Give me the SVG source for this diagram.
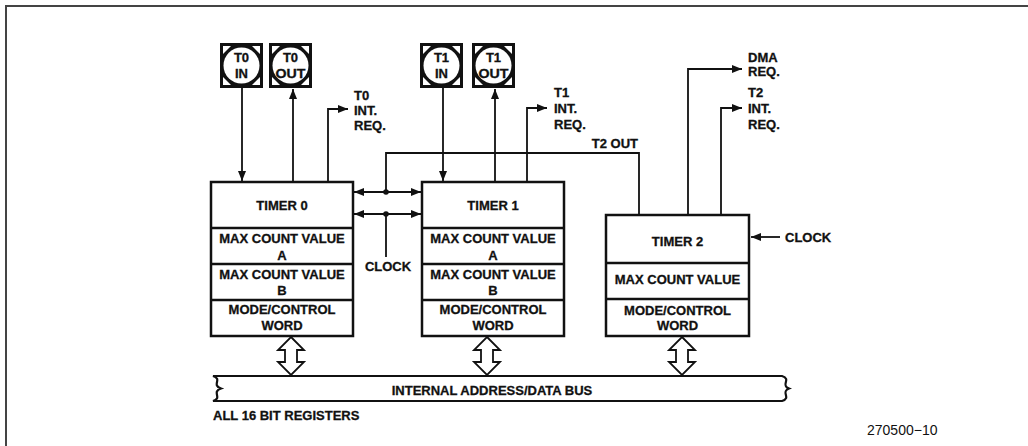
<svg xmlns="http://www.w3.org/2000/svg" width="1028" height="446" viewBox="0 0 1028 446">
<style>
.t{font-family:"Liberation Sans",Arial,sans-serif;font-weight:bold;font-size:13px;fill:#111;stroke:#111;stroke-width:0.3}
.tc{text-anchor:middle}
.pt{font-family:"Liberation Sans",Arial,sans-serif;font-weight:bold;font-size:13px;fill:#111;stroke:#111;stroke-width:0.3;text-anchor:middle}
.blk{fill:#fff;stroke:#111;stroke-width:2.5}
.div{stroke:#111;stroke-width:2.5}
.ln{fill:none;stroke:#111;stroke-width:1.8}
.ar{marker-end:url(#ah)}
.bi{marker-start:url(#ah);marker-end:url(#ah)}
.hol{fill:#fff;stroke:#111;stroke-width:1.8;stroke-linejoin:miter}
</style>
<defs>
<marker id="ah" markerUnits="userSpaceOnUse" markerWidth="10" markerHeight="8" refX="10" refY="4" orient="auto-start-reverse">
<path d="M0,0 L10,4 L0,8 z" fill="#111"/>
</marker>
<g id="pin">
<rect x="0" y="0" width="43" height="45" fill="#111"/>
<path d="M3,3 h8 l-8,8 z M40,3 h-8 l8,8 z M3,42 h8 l-8,-8 z M40,42 h-8 l8,-8 z" fill="#fff"/>
<circle cx="21.5" cy="22.5" r="18" fill="#fff"/>
</g>
</defs>
<rect width="1028" height="446" fill="#fff"/>
<path d="M6,446 L6,6 L1028,6" fill="none" stroke="#444" stroke-width="2"/>

<g id="pin-t0in"><use href="#pin" x="220" y="43"/><text class="pt" x="241.5" y="62">T0</text><text class="pt" x="241.5" y="78">IN</text></g>
<g id="pin-t0out"><use href="#pin" x="269" y="43"/><text class="pt" x="290.5" y="62">T0</text><text class="pt" x="290.5" y="78" textLength="30" lengthAdjust="spacingAndGlyphs">OUT</text></g>
<g id="pin-t1in"><use href="#pin" x="420" y="43"/><text class="pt" x="441.5" y="62">T1</text><text class="pt" x="441.5" y="78">IN</text></g>
<g id="pin-t1out"><use href="#pin" x="472" y="43"/><text class="pt" x="493.5" y="62">T1</text><text class="pt" x="493.5" y="78" textLength="30" lengthAdjust="spacingAndGlyphs">OUT</text></g>

<g id="timer0">
<rect class="blk" x="211" y="182" width="142" height="154"/>
<line class="div" x1="211" y1="228" x2="353" y2="228"/>
<line class="div" x1="211" y1="264" x2="353" y2="264"/>
<line class="div" x1="211" y1="300" x2="353" y2="300"/>
<text class="t tc" x="282" y="209.5">TIMER 0</text>
<text class="t tc" x="282" y="242.5">MAX COUNT VALUE</text>
<text class="t tc" x="282" y="259.5">A</text>
<text class="t tc" x="282" y="278.5">MAX COUNT VALUE</text>
<text class="t tc" x="282" y="294.5">B</text>
<text class="t tc" x="282" y="313.5">MODE/CONTROL</text>
<text class="t tc" x="282" y="329.5">WORD</text>
</g>

<g id="timer1">
<rect class="blk" x="422" y="182" width="142" height="154"/>
<line class="div" x1="422" y1="228" x2="564" y2="228"/>
<line class="div" x1="422" y1="264" x2="564" y2="264"/>
<line class="div" x1="422" y1="300" x2="564" y2="300"/>
<text class="t tc" x="493" y="209.5">TIMER 1</text>
<text class="t tc" x="493" y="242.5">MAX COUNT VALUE</text>
<text class="t tc" x="493" y="259.5">A</text>
<text class="t tc" x="493" y="278.5">MAX COUNT VALUE</text>
<text class="t tc" x="493" y="294.5">B</text>
<text class="t tc" x="493" y="313.5">MODE/CONTROL</text>
<text class="t tc" x="493" y="329.5">WORD</text>
</g>

<g id="timer2">
<rect class="blk" x="606" y="215" width="143" height="121"/>
<line class="div" x1="606" y1="263" x2="749" y2="263"/>
<line class="div" x1="606" y1="299" x2="749" y2="299"/>
<text class="t tc" x="677.5" y="245.5">TIMER 2</text>
<text class="t tc" x="677.5" y="283.5">MAX COUNT VALUE</text>
<text class="t tc" x="677.5" y="314.5">MODE/CONTROL</text>
<text class="t tc" x="677.5" y="329.5">WORD</text>
</g>

<g id="bus">
<path d="M213,376 L782,376 C792,379 780,385 789,388.5 C780,392 792,398 782,401 L213,401 C223,398 211,392 221,388.5 C211,385 223,379 213,376 Z" fill="#fff" stroke="#111" stroke-width="2.2"/>
<text class="t tc" x="492" y="394.5">INTERNAL ADDRESS/DATA BUS</text>
</g>

<g id="connectors">
<line class="ln ar" x1="242" y1="88" x2="242" y2="181"/>
<line class="ln ar" x1="293" y1="182" x2="293" y2="89"/>
<polyline class="ln ar" points="328,182 328,109 348,109"/>
<line class="ln ar" x1="443" y1="88" x2="443" y2="181"/>
<line class="ln ar" x1="495" y1="182" x2="495" y2="89"/>
<polyline class="ln ar" points="527,182 527,108 547,108"/>
<polyline class="ln" points="386,192 386,153 639,153 639,215"/>
<polyline class="ln ar" points="688,215 688,69 742,69"/>
<polyline class="ln ar" points="721,215 721,108 742,108"/>
<line class="ln bi" x1="354" y1="192" x2="421" y2="192"/>
<line class="ln bi" x1="354" y1="214" x2="421" y2="214"/>
<line class="ln" x1="386" y1="214" x2="386" y2="257"/>
<circle cx="386" cy="192" r="2.8" fill="#111"/>
<circle cx="386" cy="214" r="2.8" fill="#111"/>
<line class="ln ar" x1="780" y1="237" x2="751" y2="237"/>
<path class="hol" d="M291,337 L304,350 L297,350 L297,362 L304,362 L291,375 L278,362 L285,362 L285,350 L278,350 Z"/>
<path class="hol" d="M487,337 L500,350 L493,350 L493,362 L500,362 L487,375 L474,362 L481,362 L481,350 L474,350 Z"/>
<path class="hol" d="M682,337 L695,350 L688,350 L688,362 L695,362 L682,375 L669,362 L676,362 L676,350 L669,350 Z"/>
</g>

<g id="labels">
<text class="t" x="354" y="99.5">T0</text>
<text class="t" x="354" y="114.5">INT.</text>
<text class="t" x="354" y="129.5">REQ.</text>
<text class="t" x="554" y="97">T1</text>
<text class="t" x="554" y="112.5">INT.</text>
<text class="t" x="554" y="129">REQ.</text>
<text class="t" x="748" y="61.5">DMA</text>
<text class="t" x="748" y="75.5">REQ.</text>
<text class="t" x="748" y="96.5">T2</text>
<text class="t" x="748" y="112.5">INT.</text>
<text class="t" x="748" y="128.5">REQ.</text>
<text class="t" x="638" y="147.5" text-anchor="end">T2 OUT</text>
<text class="t tc" x="388" y="270.5">CLOCK</text>
<text class="t" x="785" y="241.5">CLOCK</text>
<text class="t" x="213" y="419.5">ALL 16 BIT REGISTERS</text>
<text x="867" y="435" font-family="'Liberation Sans',Arial,sans-serif" font-size="14" fill="#111">270500−10</text>
</g>
</svg>
